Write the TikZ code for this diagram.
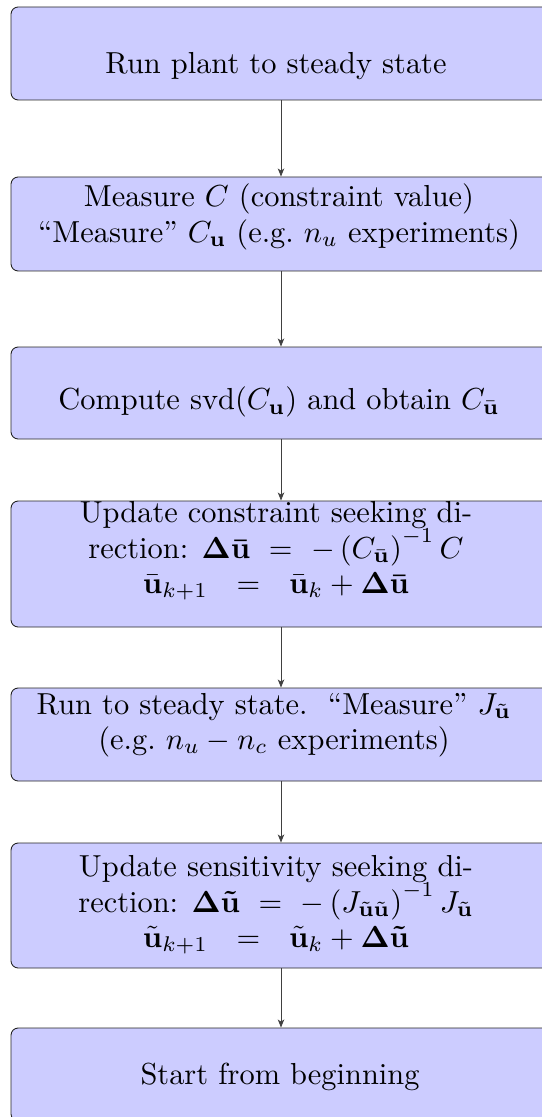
\documentclass[tikz,border=0pt]{standalone}
\usepackage{amsmath,amssymb}
\usetikzlibrary{arrows.meta}
\newcommand{\bu}{\bar{\mathbf u}}
\newcommand{\tu}{\tilde{\mathbf u}}
\begin{document}
\begin{tikzpicture}[x=0.5pt,y=-0.5pt,
  stepbox/.style={draw=black!85, line width=0.45pt, fill=blue!20, rounded corners=3.6pt,
    inner sep=0pt, minimum width=270pt},
  steptext/.style={font=\fontsize{10}{11.6}\selectfont, align=center, inner sep=0pt, scale=1.52},
  arr/.style={draw=black!75, line width=0.45pt, -{Stealth[length=4pt,width=3.2pt,inset=1pt]}}]
\useasboundingbox (0,0) rectangle (541,1117);
\coordinate (ax) at (281,0);
% boxes
\node[stepbox, minimum height=46.5pt] (b1) at (281,53.5) {};
\node[stepbox, minimum height=47pt]   (b2) at (281,224) {};
\node[stepbox, minimum height=46pt]   (b3) at (281,393) {};
\node[stepbox, minimum height=63pt]   (b4) at (281,564) {};
\node[stepbox, minimum height=46.5pt] (b5) at (281,734.5) {};
\node[stepbox, minimum height=62.5pt] (b6) at (281,905.5) {};
\node[stepbox, minimum height=46.5pt] (b7) at (281,1074.5) {};
% texts
\node[steptext] (t1) at (276,66) {Run plant to steady state};
\node[steptext] (t2) at (279,217) {Measure $C$ (constraint value)\\``Measure'' $C_{\mathbf u}$ (e.g.\ $n_u$ experiments)};
\node[steptext] (t3) at (279,402) {Compute svd$(C_{\mathbf u})$ and obtain $C_{\bu}$};
\node[steptext] (t4) at (276,551) {Update constraint seeking di-\\rection: $\boldsymbol{\Delta\bu}\ =\ -\left(C_{\bu}\right)^{-1}C$\\$\bu_{k+1}\ \ =\ \ \bu_k+\boldsymbol{\Delta\bu}$};
\node[steptext] (t5) at (274,725) {Run to steady state.\ \ ``Measure'' $J_{\tu}$\\(e.g.\ $n_u-n_c$ experiments)};
\node[steptext] (t6) at (276,905) {Update sensitivity seeking di-\\rection: $\boldsymbol{\Delta\tu}\ =\ -\left(J_{\tu\tu}\right)^{-1}J_{\tu}$\\$\tu_{k+1}\ \ =\ \ \tu_k+\boldsymbol{\Delta\tu}$};
\node[steptext] (t7) at (280,1077) {Start from beginning};
% connectors
\draw[arr] (b1.south -| ax) -- (b2.north -| ax);
\draw[arr] (b2.south -| ax) -- (b3.north -| ax);
\draw[arr] (b3.south -| ax) -- (b4.north -| ax);
\draw[arr] (b4.south -| ax) -- (b5.north -| ax);
\draw[arr] (b5.south -| ax) -- (b6.north -| ax);
\draw[arr] (b6.south -| ax) -- (b7.north -| ax);
\end{tikzpicture}
\end{document}
